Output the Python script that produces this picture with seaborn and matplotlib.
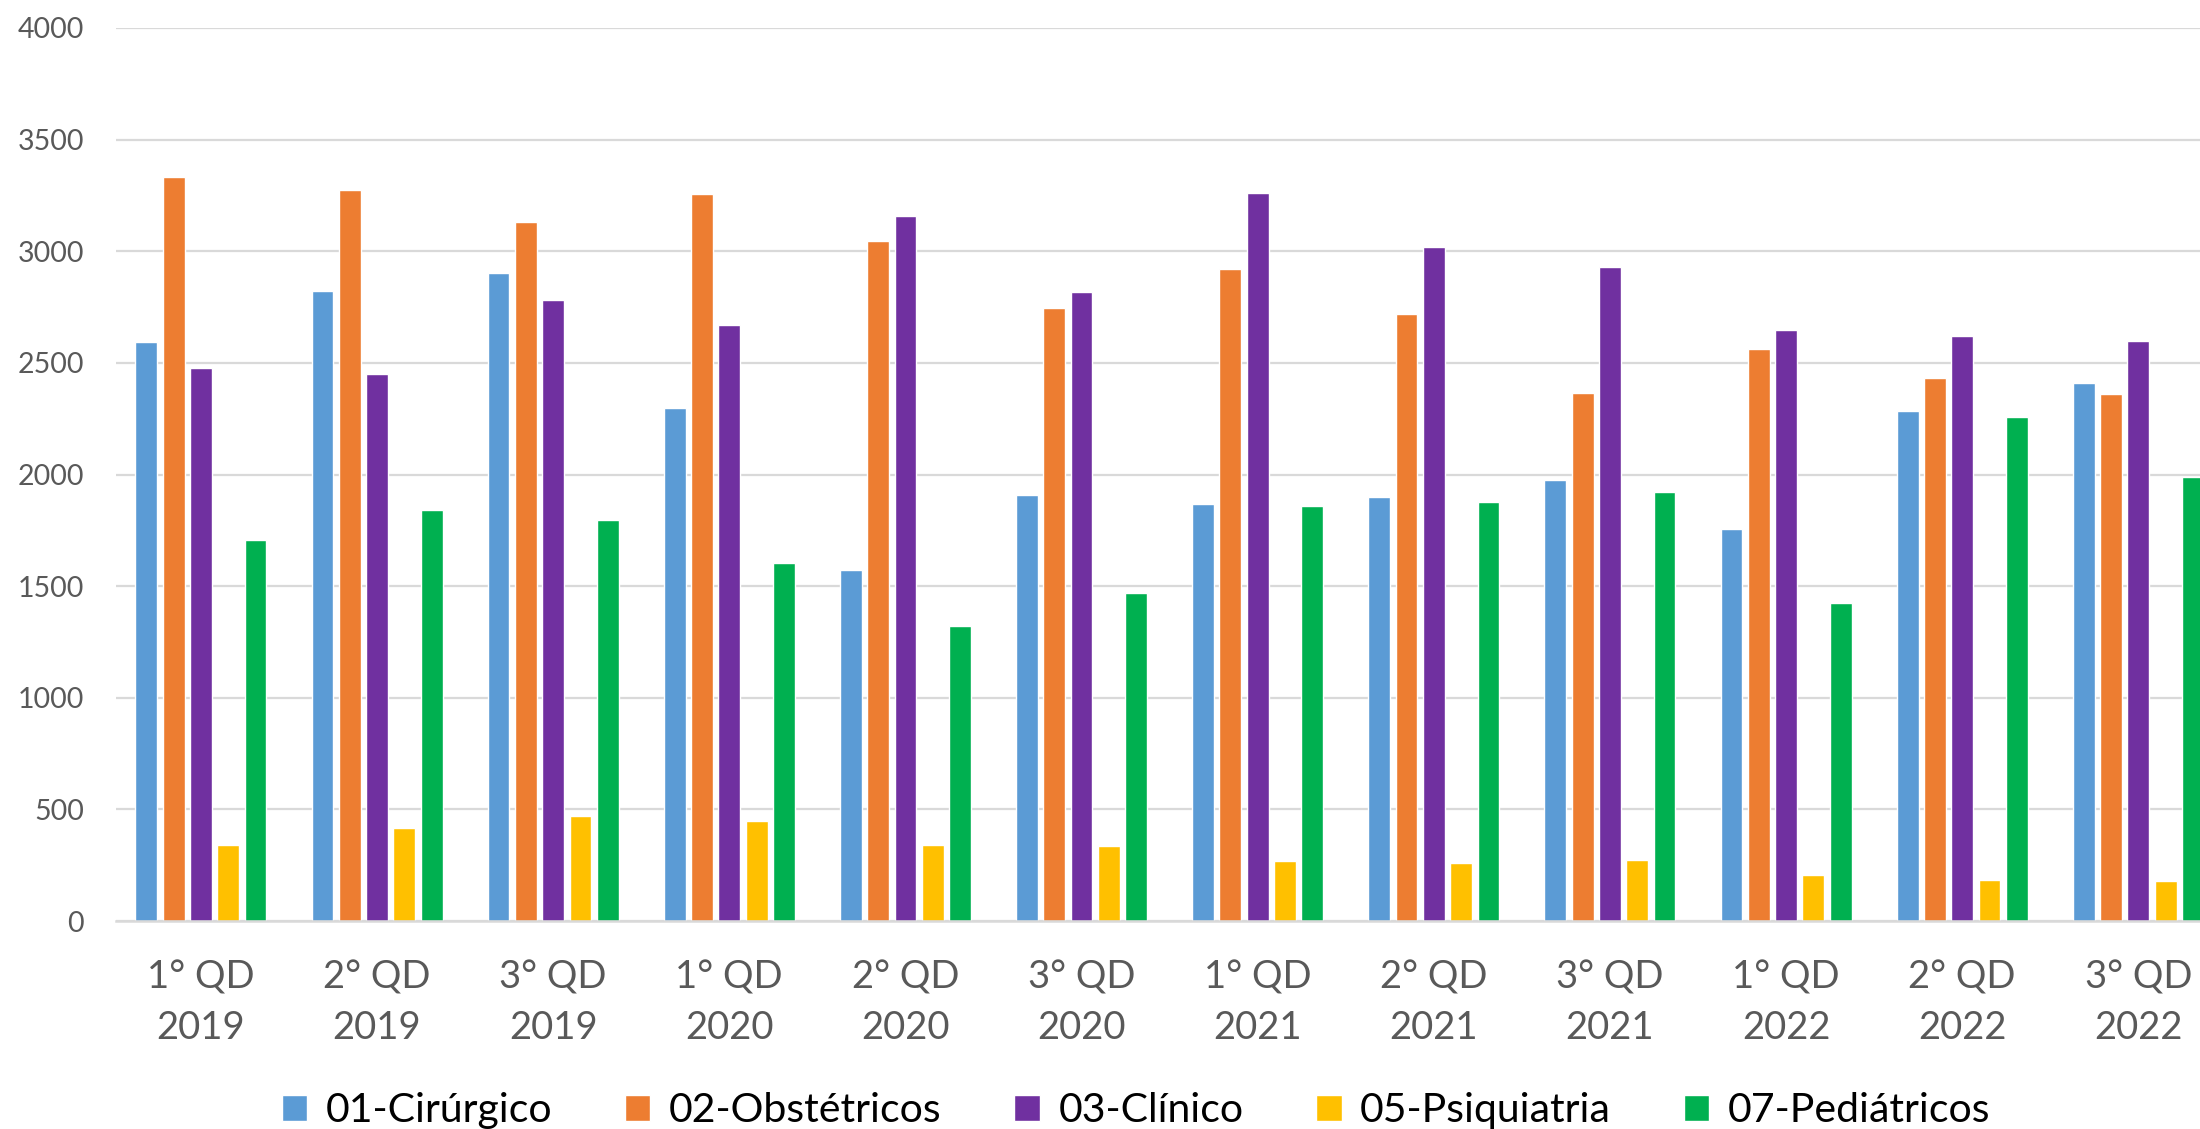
import matplotlib
matplotlib.use("Agg")
import matplotlib.pyplot as plt
import seaborn as sns
import pandas as pd

categories = ["1° QD\n2019", "2° QD\n2019", "3° QD\n2019",
              "1° QD\n2020", "2° QD\n2020", "3° QD\n2020",
              "1° QD\n2021", "2° QD\n2021", "3° QD\n2021",
              "1° QD\n2022", "2° QD\n2022", "3° QD\n2022"]
series_names = ["01-Cirúrgico", "02-Obstétricos", "03-Clínico", "05-Psiquiatria", "07-Pediátricos"]
cirurgico = [2593, 2821, 2903, 2300, 1572, 1909, 1868, 1901, 1977, 1757, 2286, 2411]
obstetricos = [3332, 3275, 3133, 3255, 3046, 2748, 2919, 2721, 2365, 2563, 2433, 2362]
clinico = [2479, 2449, 2780, 2669, 3158, 2818, 3261, 3017, 2930, 2647, 2620, 2598]
psiquiatria = [339, 415, 472, 448, 339, 337, 269, 261, 274, 204, 185, 179]
pediatricos = [1705, 1841, 1797, 1605, 1322, 1469, 1857, 1879, 1920, 1425, 2256, 1990]
colors = ["#5B9BD5", "#ED7D31", "#7030A0", "#FFC000", "#00B050"]

rows = []
for name, vals in zip(series_names, [cirurgico, obstetricos, clinico, psiquiatria, pediatricos]):
    for c, v in zip(categories, vals):
        rows.append({"cat": c, "serie": name, "valor": v})
df = pd.DataFrame(rows)

sns.set_theme(style="white")
plt.rcParams["font.family"] = ["Lato", "DejaVu Sans"]
text_color = "#595959"

fig = plt.figure(figsize=(22, 11.29), dpi=100)
ax = fig.add_axes([116 / 2200, 1 - 921 / 1129, 1 - 116 / 2200, (921 - 28) / 1129])

sns.barplot(data=df, x="cat", y="valor", hue="serie", order=categories,
            hue_order=series_names, palette=colors, saturation=1,
            width=0.775, gap=0.2, ax=ax, edgecolor="white", linewidth=1,
            legend=True)

ax.set_ylim(0, 4000)
ax.set_xlim(-0.482, 11.35)
ax.set_yticks(range(0, 4001, 500))
ax.set_xlabel("")
ax.set_ylabel("")
ax.yaxis.grid(True, color="#D9D9D9", linewidth=1.6)
ax.set_axisbelow(True)
for s in ["top", "right", "left"]:
    ax.spines[s].set_visible(False)
ax.spines["bottom"].set_color("#D9D9D9")
ax.spines["bottom"].set_linewidth(1.8)
ax.tick_params(axis="y", length=0, pad=23, labelsize=20.5, labelcolor=text_color)
ax.tick_params(axis="x", length=0, pad=28, labelsize=27.5, labelcolor=text_color)
for lbl in ax.get_xticklabels():
    lbl.set_linespacing(1.5)

handles, labels = ax.get_legend_handles_labels()
ax.get_legend().remove()
fig.legend(handles, labels, loc="center", bbox_to_anchor=(1136 / 2200, 0.016),
           ncol=5, frameon=False, fontsize=29.5, handlelength=0.62, handleheight=0.62,
           handletextpad=0.45, columnspacing=1.78, labelcolor="#000000")

fig.savefig("out.png", dpi=100)
